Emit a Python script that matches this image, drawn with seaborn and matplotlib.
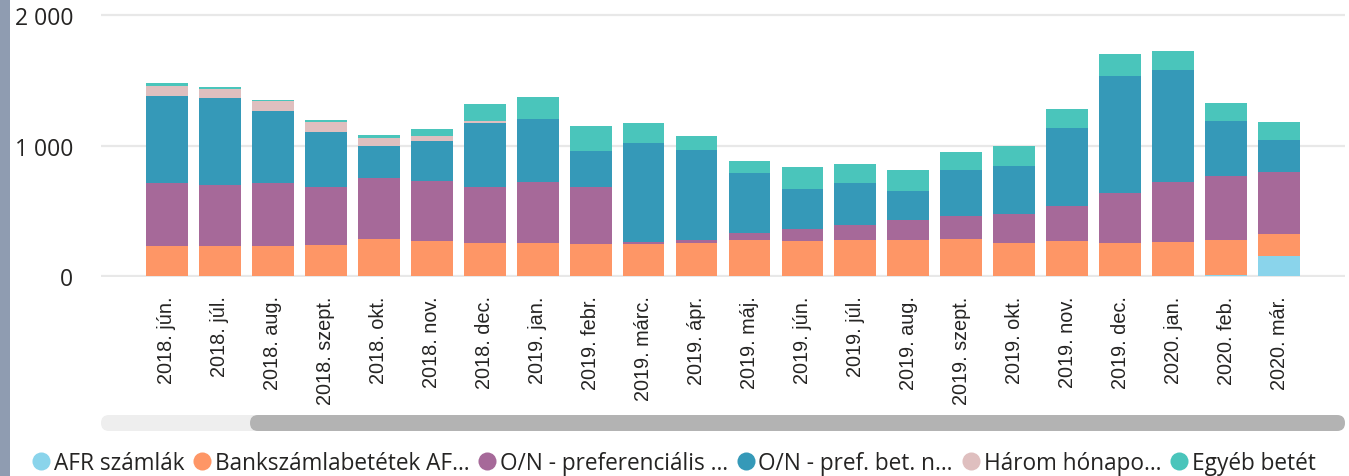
import matplotlib
matplotlib.use("Agg")
import matplotlib.pyplot as plt
from matplotlib.patches import Rectangle, FancyBboxPatch
from matplotlib.lines import Line2D
import seaborn as sns
import pandas as pd
import numpy as np

months = ["2018. jún.", "2018. júl.", "2018. aug.", "2018. szept.", "2018. okt.",
          "2018. nov.", "2018. dec.", "2019. jan.", "2019. febr.", "2019. márc.",
          "2019. ápr.", "2019. máj.", "2019. jún.", "2019. júl.", "2019. aug.",
          "2019. szept.", "2019. okt.", "2019. nov.", "2019. dec.", "2020. jan.",
          "2020. feb.", "2020. már."]

afr_szamlak = [0, 0, 0, 0, 0, 0, 0, 0, 0, 0, 0, 0, 0, 0, 0, 0, 0, 0, 0, 3, 8, 153]
bankszamla = [230, 230, 230, 238, 284, 269, 253, 253, 246, 246, 253, 276, 269, 276,
              276, 284, 253, 269, 253, 258, 268, 169]
on_pref = [486, 471, 486, 447, 468, 460, 432, 468, 439, 15, 23, 56, 94, 118, 154,
           176, 223, 268, 386, 460, 491, 476]
on_pref_bet_n = [665, 665, 550, 420, 245, 307, 489, 484, 274, 759, 691, 458, 305,
                 320, 222, 353, 368, 599, 896, 860, 422, 245]
harom_honap = [77, 71, 77, 77, 62, 38, 15, 0, 0, 0, 0, 0, 0, 0, 0, 0, 0, 0, 0, 0, 0, 0]
egyeb = [23, 13, 7, 15, 23, 54, 131, 168, 192, 154, 107, 92, 168, 145, 161, 138,
         153, 145, 168, 145, 138, 139]

series_names = ["AFR számlák", "Bankszámlabetétek AF…", "O/N - preferenciális …",
                "O/N - pref. bet. n…", "Három hónapo…", "Egyéb betét"]
series_values = [afr_szamlak, bankszamla, on_pref, on_pref_bet_n, harom_honap, egyeb]
colors = ["#8AD4EB", "#FE9666", "#A66999", "#3599B8", "#DFBFBF", "#4AC5BB"]

W, H = 1349, 477
fig = plt.figure(figsize=(W / 100, H / 100), dpi=100)
sns.set_style("white")
plt.rcParams["font.family"] = ["Open Sans", "DejaVu Sans"]

ax = fig.add_axes([101 / W, 1 - 278.3 / H, (1345 - 101) / W, (278.3 - 11.1) / H])

cum = np.cumsum(np.array(series_values), axis=0)
# draw from top layer down, overlapping cumulative heights
for k in range(len(series_values) - 1, -1, -1):
    df = pd.DataFrame({"month": months, "value": cum[k]})
    sns.barplot(data=df, x="month", y="value", order=months, color=colors[k],
                saturation=1, width=0.79, ax=ax, linewidth=0, edgecolor="none",
                errorbar=None, zorder=3)

ax.set_xlim(-1.246, 22.246)
ax.set_ylim(-10, 2040)
ax.set_yticks([0, 1000, 2000])
ax.set_yticklabels(["0", "1 000", "2 000"], fontsize=16.5, color="#252423",
                   family=["Open Sans", "DejaVu Sans"])
ax.grid(axis="y", color="#E8E8E8", linewidth=1.6, zorder=0)
ax.grid(axis="x", visible=False)
ax.set_axisbelow(True)
for s in ax.spines.values():
    s.set_visible(False)
ax.tick_params(axis="y", length=0, pad=20)
ax.tick_params(axis="x", length=0, pad=13)
ax.set_xticks(range(len(months)))
ax.set_xticklabels(months, rotation=90, fontsize=14.3, color="#252423",
                   family=["Liberation Sans", "DejaVu Sans"], va="top", ha="center")
ax.set_xlabel("")
ax.set_ylabel("")

# left grey strip
fig.patches.append(Rectangle((0, 0), 10 / W, 1, transform=fig.transFigure,
                             facecolor="#8F9CB1", edgecolor="none"))
# scrollbar track and thumb
def pill(x0, x1, y0, y1, color):
    r = (y1 - y0) / 2
    p = FancyBboxPatch((x0, H - y1), (x1 - x0), (y1 - y0),
                       boxstyle=f"round,pad=0,rounding_size={r}",
                       transform=None, facecolor=color, edgecolor="none")
    fig.patches.append(p)

pill(101, 1345, 416, 432, "#EEEEEE")
pill(250, 1345, 416, 432, "#B3B3B3")

handles = [Line2D([0], [0], marker="o", linestyle="none", markersize=13,
                  markerfacecolor=c, markeredgecolor="none") for c in colors]
fig.legend(handles, series_names, loc="center left",
           bbox_to_anchor=(32 / W, 1 - 464 / H), ncol=6, frameon=False,
           handlelength=0.8, handletextpad=0.15, columnspacing=0.4,
           borderaxespad=0, borderpad=0, labelcolor="#252423",
           prop={"family": ["Open Sans", "DejaVu Sans"], "size": 16.3})

fig.savefig("out.png", dpi=100)
